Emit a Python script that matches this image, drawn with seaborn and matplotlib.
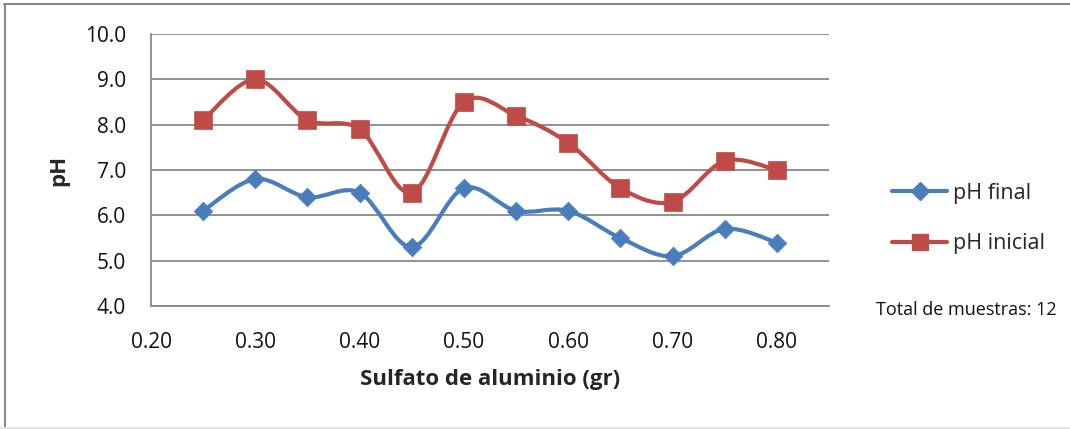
import numpy as np
import pandas as pd
import matplotlib
matplotlib.use("Agg")
import matplotlib.pyplot as plt
from matplotlib.path import Path
from matplotlib.patches import PathPatch
from matplotlib.lines import Line2D
import seaborn as sns

# Dosis de sulfato de aluminio y pH medido
dosis = [0.25, 0.30, 0.35, 0.40, 0.45, 0.50, 0.55, 0.60, 0.65, 0.70, 0.75, 0.80]
ph_final = [6.1, 6.8, 6.4, 6.5, 5.3, 6.6, 6.1, 6.1, 5.5, 5.1, 5.7, 5.4]
ph_inicial = [8.1, 9.0, 8.1, 7.9, 6.5, 8.5, 8.2, 7.6, 6.6, 6.3, 7.2, 7.0]
x_ticks = [0.20, 0.30, 0.40, 0.50, 0.60, 0.70, 0.80]
y_ticks = [4.0, 5.0, 6.0, 7.0, 8.0, 9.0, 10.0]
total_muestras = 12

AZUL = "#4A7EBB"
ROJO = "#BE4B48"
GRIS = "#888888"

sns.set_theme(style="white")
plt.rcParams["font.family"] = ["Open Sans", "DejaVu Sans"]

df = pd.DataFrame({"dosis": dosis * 2,
                   "ph": ph_final + ph_inicial,
                   "serie": ["pH final"] * len(dosis) + ["pH inicial"] * len(dosis)})

fig = plt.figure(figsize=(10.70, 4.29), dpi=100)
ax = fig.add_axes([151 / 1070, 1 - 306 / 429, 678 / 1070, 272 / 429])


def curva_suave(x, y):
    """Bezier path through the points, Catmull-Rom style (smoothed line)."""
    pts = np.column_stack([x, y]).astype(float)
    verts = [pts[0]]
    codes = [Path.MOVETO]
    n = len(pts)
    for i in range(n - 1):
        p0 = pts[i - 1] if i > 0 else pts[i]
        p1 = pts[i]
        p2 = pts[i + 1]
        p3 = pts[i + 2] if i + 2 < n else pts[i + 1]
        c1 = p1 + (p2 - p0) / 6.0
        c2 = p2 - (p3 - p1) / 6.0
        verts += [c1, c2, p2]
        codes += [Path.CURVE4] * 3
    return Path(verts, codes)


for valores, color, z in [(ph_final, AZUL, 3), (ph_inicial, ROJO, 5)]:
    ax.add_patch(PathPatch(curva_suave(dosis, valores), facecolor="none",
                           edgecolor=color, lw=3.0, capstyle="round",
                           joinstyle="round", zorder=z))

sns.scatterplot(data=df[df.serie == "pH final"], x="dosis", y="ph", marker="D",
                s=9.5 ** 2, color=AZUL, edgecolor=AZUL, linewidth=0.5,
                ax=ax, zorder=4, legend=False)
sns.scatterplot(data=df[df.serie == "pH inicial"], x="dosis", y="ph", marker="s",
                s=13 ** 2, color=ROJO, edgecolor=ROJO, linewidth=0.5,
                ax=ax, zorder=6, legend=False)

ax.set_xlim(0.20, 0.85)
ax.set_ylim(4.0, 10.0)
ax.set_xticks(x_ticks)
ax.set_xticklabels([f"{v:.2f}" for v in x_ticks], fontsize=15, color="#111111")
ax.set_yticks(y_ticks)
ax.set_yticklabels([f"{v:.1f}" for v in y_ticks], fontsize=15, color="#111111")
ax.tick_params(axis="x", length=0, pad=19)
ax.tick_params(axis="y", length=0, pad=18)

ax.grid(axis="y", color=GRIS, lw=1.3)
ax.grid(axis="x", visible=False)
ax.set_axisbelow(True)
for lado in ["top", "right"]:
    ax.spines[lado].set_visible(False)
for lado in ["left", "bottom"]:
    ax.spines[lado].set_color(GRIS)
    ax.spines[lado].set_linewidth(1.3)

ax.set_xlabel("Sulfato de aluminio (gr)", fontsize=16, fontweight="bold", labelpad=11)
ax.set_ylabel("pH", fontsize=16, fontweight="bold", labelpad=11)

handles = [
    Line2D([], [], color=AZUL, lw=3, marker="D", markersize=9, markerfacecolor=AZUL,
           markeredgecolor=AZUL),
    Line2D([], [], color=ROJO, lw=3, marker="s", markersize=12, markerfacecolor=ROJO,
           markeredgecolor=ROJO),
]
fig.legend(handles, ["pH final", "pH inicial"], loc="upper left",
           bbox_to_anchor=(892 / 1070, 1 - 183 / 429), frameon=False,
           fontsize=15.5, handlelength=2.56, handletextpad=0.28, labelspacing=1.37,
           borderpad=0, borderaxespad=0)

fig.text(1057 / 1070, 1 - 310 / 429, f"Total de muestras: {total_muestras}",
         fontsize=13, ha="right", va="center", color="#111111")

# Borde del área del gráfico
fig.add_artist(Line2D([4 / 1070, 1], [1 - 4 / 429, 1 - 4 / 429],
                      transform=fig.transFigure, color=GRIS, lw=1.5))
fig.add_artist(Line2D([5 / 1070, 5 / 1070], [0, 1 - 4 / 429],
                      transform=fig.transFigure, color=GRIS, lw=1.5))
fig.add_artist(Line2D([0, 1], [1.5 / 429, 1.5 / 429],
                      transform=fig.transFigure, color="#E4E4E4", lw=1.5))

fig.savefig("out.png", dpi=100)
